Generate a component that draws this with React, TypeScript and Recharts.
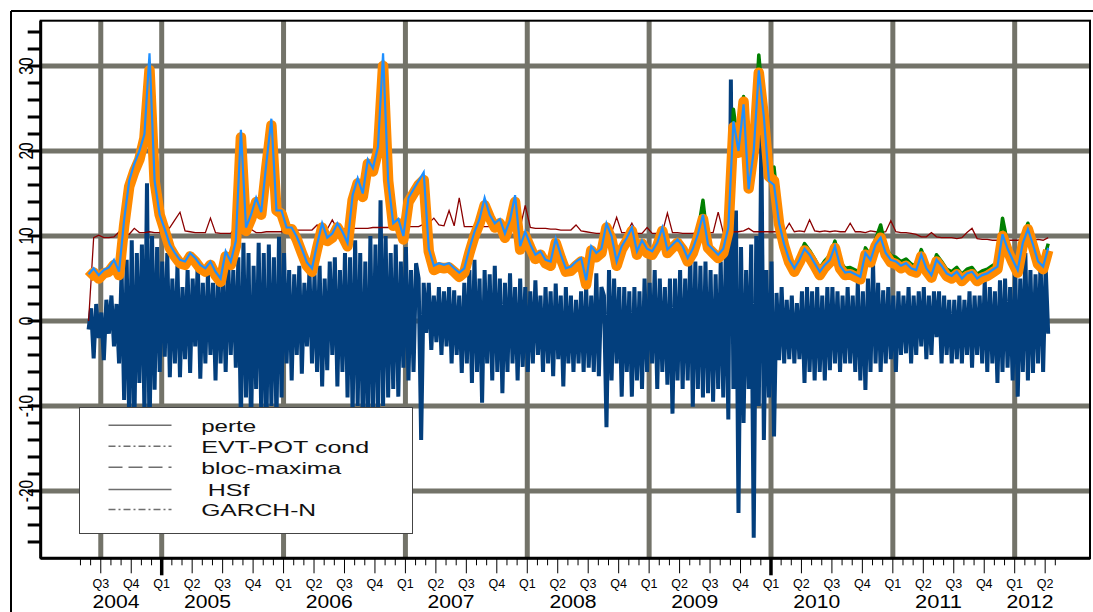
import { LineChart, Line, XAxis, YAxis, CartesianGrid, Legend } from 'recharts';

// daily loss series is sampled weekly-ish, the VaR series twice a month
const START = 2004.4;
const PERTE_STEP = 1 / 48;
const VAR_STEP = 1 / 24;

const perte = [
  -1, 1.5, -4.4, 2, -2, 1, -4.6, 2.5, -1.5, 3,
  -3, 2, -5, 6, -9.3, 7.2, -12, 9.5, -13, 8,
  -7.3, 9, -11, 16.2, -14, 10, -8.1, 8.7, -6, 7,
  -4.2, 8, -6.6, 5, -5, 6.5, -6.6, 4, -4.5, 6,
  -6.1, 5, -3, 7, -6.8, 4.5, -5, 5.5, -4, 4.5,
  -7, 6, -5, 5, -6, 7, -4, 6, -5.5, 7.5,
  -12, 9.2, -9, 8, -13, 6.5, -8, 9.2, -11, 8,
  -14, 9, -10, 7.5, -12, 9.9, -9, 8, -5, 6,
  -7, 5.5, -4, 6.5, -6.2, 4.5, -3, 6, -5, 5.5,
  -6, 6.5, -7.7, 5, -5.8, 7, -4, 7.5, -7.7, 6,
  -6, 8, -9, 7.5, -11, 9.5, -10, 8, -12, 7,
  -13, 10, -11, 9, -12, 14.2, -10, 10, -9, 8,
  -8, 9, -8.9, 7, -5.5, 8.7, -7, 6, -6, 6.8,
  5, -14, 4.5, -1.4, 4.5, -3.4, 3, -2.5, 4, -4,
  3.5, -3, 4, -5, 3.6, -4, 3, -6.1, 4.5, -5,
  6, -7.3, 7.2, -6, 5, -9.6, 6, -5, 5.5, -7,
  6.5, -6, 5, -8.5, 4.5, -6, 5.6, -5, 4, -7,
  5, -5.4, 4, -6, 3.5, -5, 4.8, -4, 3, -6,
  4, -5, 3.5, -6.5, 4.4, -4.5, 3, -7.7, 4, -5,
  3, -6, 2.5, -5, 3.5, -6, 4, -5.5, 3, -6,
  5.6, -6.5, 4, 3, -12.5, 6, -7, 5, -5, 4,
  -8.9, 4, -6, 3.5, -8.9, 4, -7, 3.5, -8, 5,
  -6, 4.5, -5, 6, -8, 5, -6, 4, -7.5, 5,
  -10.9, 5, -7, 6, -8, 5, -7, 8, -10.1, 7,
  -8, 6.5, -9, 7, -8.5, 6, -9.5, 5.5, -8, 7,
  -9, 8, -11.6, 28.4, -8, 13, -22.6, 8.7, -12, 6,
  -8, 9, -25.5, 10, -10, 22, -14, 6, -9, 7,
  -13.6, 3.3, -4.6, 4, -5, 2.5, -4.5, 3, -5, 2.1,
  -4.5, 3.5, -7.3, 4, -6, 3.5, -7, 4, -6, 3,
  -7, 4, -5.8, 4, -5, 3.5, -6, 3, -5, 4,
  -5, 3, -6, 4.5, -7, 3.5, -8.1, 5, -6, 6.8,
  -5, 4.5, -6, 3.6, -5, 4, -4.5, 3, -6, 3.5,
  -4, 3, -3.8, 4, -5, 3, -4, 3.5, -3, 4,
  -4.5, 3, -4, 3.5, -1.9, 3.5, -5, 3, -4, 2.5,
  -5, 2.5, -4.5, 3, -5, 2.5, -4, 3.5, -5.5, 3,
  -4, 3, -5, 4.8, -6, 4, -5, 3.5, -7.3, 4.8,
  -6, 5, -5.5, 4, -7, 6, -8.9, 5, -6, 8,
  -7, 6, -6.1, 5.5, -5, 7, -6, 6.4, -1.5,
];

const evtPotCond = [
  5.4, 6.0, 5.3, 5.9, 6.1, 6.9, 5.7, 12.0, 16.3, 18.0,
  19.4, 22.2, 30.0, 17.0, 12.8, 10.9, 8.9, 7.9, 7.1, 6.9,
  7.9, 7.3, 6.5, 6.1, 6.9, 5.7, 4.9, 7.9, 6.9, 9.1,
  22.0, 10.9, 12.3, 14.3, 12.8, 18.3, 23.3, 13.3, 12.9, 11.1,
  11.1, 9.9, 8.3, 6.8, 6.1, 8.8, 11.3, 9.7, 10.1, 11.3,
  10.3, 9.1, 14.5, 16.5, 14.9, 18.8, 17.9, 20.3, 30.5, 16.8,
  11.5, 11.8, 9.9, 14.3, 15.3, 16.3, 17.0, 8.5, 6.3, 6.6,
  6.5, 6.6, 6.1, 5.5, 6.0, 8.3, 10.3, 11.8, 13.9, 12.5,
  11.3, 11.8, 10.1, 11.7, 14.3, 8.7, 10.3, 8.9, 7.6, 8.1,
  7.1, 6.8, 9.5, 7.7, 6.1, 6.2, 6.8, 7.3, 4.6, 8.6,
  7.8, 8.3, 11.3, 9.9, 6.8, 8.7, 9.7, 10.9, 8.1, 9.4,
  8.3, 8.1, 9.1, 10.9, 8.3, 8.9, 9.5, 8.7, 7.3, 8.3,
  10.4, 14.2, 8.9, 8.3, 7.7, 8.3, 11.0, 24.9, 20.5, 26.4,
  16.0, 20.5, 31.3, 24.6, 17.6, 18.1, 12.0, 9.3, 7.4, 6.5,
  7.7, 9.1, 8.3, 7.3, 6.2, 7.1, 7.7, 9.4, 7.0, 6.2,
  6.3, 6.0, 5.7, 8.6, 7.7, 9.6, 11.3, 8.6, 7.7, 7.5,
  7.0, 7.3, 6.7, 6.5, 8.4, 6.7, 5.9, 7.8, 7.0, 6.1,
  5.8, 6.3, 5.5, 6.1, 6.3, 5.5, 5.9, 6.1, 6.5, 6.9,
  12.1, 9.1, 7.7, 6.5, 9.8, 11.5, 9.6, 7.5, 6.9, 9.1,
];

const blocMaxima = [
  0, 9.8, 10.1, 9.8, 9.8, 9.9, 10.5, 10.2, 10.2, 10.9,
  10.4, 10.4, 10.5, 10.4, 10.4, 10.4, 11.0, 11.9, 12.8, 10.6,
  10.5, 10.4, 10.4, 10.4, 12.1, 10.4, 10.3, 10.3, 10.3, 11.1,
  10.3, 10.4, 10.8, 10.4, 10.4, 10.5, 10.5, 10.5, 10.5, 10.6,
  10.7, 10.7, 10.7, 10.7, 10.7, 11.3, 10.7, 10.8, 11.9, 10.8,
  10.8, 10.9, 10.9, 10.9, 10.9, 10.9, 11.0, 11.0, 11.0, 11.0,
  11.1, 11.1, 11.1, 11.1, 11.1, 11.1, 11.4, 11.5, 12.1, 11.3,
  11.2, 13.0, 11.2, 14.5, 11.1, 11.1, 11.1, 11.1, 11.1, 11.1,
  11.1, 11.0, 11.0, 11.0, 11.0, 11.0, 13.6, 11.0, 10.9, 10.9,
  10.9, 10.8, 10.8, 10.7, 10.7, 10.7, 11.3, 10.6, 10.5, 10.4,
  10.3, 10.3, 10.3, 10.4, 12.2, 10.4, 10.4, 11.5, 10.3, 10.3,
  11.0, 10.3, 10.3, 10.4, 12.7, 10.4, 10.4, 10.3, 10.3, 10.3,
  10.4, 10.4, 10.4, 10.4, 12.8, 10.4, 10.4, 10.5, 10.5, 10.6,
  10.9, 10.5, 10.5, 10.5, 10.5, 10.5, 10.5, 10.5, 11.5, 10.5,
  10.6, 10.5, 11.9, 10.6, 10.5, 10.6, 10.5, 10.6, 10.5, 10.5,
  11.5, 10.5, 10.5, 10.4, 10.6, 10.5, 10.4, 10.5, 11.8, 10.5,
  10.4, 10.4, 10.3, 10.2, 9.9, 9.9, 10.4, 9.9, 9.8, 9.8,
  9.8, 9.7, 9.8, 10.4, 10.9, 9.7, 9.6, 9.6, 9.5, 9.5,
  9.5, 9.5, 9.5, 9.5, 9.6, 9.5, 9.5, 9.6, 9.5, 9.8,
];

const hsf = [
  5.5, 6.2, 5.4, 6.0, 6.3, 7.2, 5.8, 11.9, 16.5, 18.5,
  20.0, 22.0, 31.5, 16.5, 12.5, 10.8, 9.0, 8.0, 7.2, 7.0,
  8.0, 7.4, 6.6, 6.2, 7.0, 5.8, 5.0, 8.2, 7.0, 9.4,
  22.5, 11.0, 12.5, 14.5, 12.8, 18.5, 23.8, 13.0, 13.0, 11.0,
  11.0, 9.9, 8.5, 6.9, 6.2, 9.0, 11.5, 9.8, 10.3, 11.5,
  10.5, 9.2, 14.8, 16.8, 15.0, 19.0, 18.0, 20.5, 31.5, 16.5,
  11.5, 12.0, 10.0, 14.5, 15.5, 16.5, 17.5, 8.5, 6.5, 6.8,
  6.6, 6.8, 6.2, 5.7, 6.2, 8.5, 10.5, 12.0, 14.5, 12.5,
  11.5, 12.0, 10.3, 11.9, 14.8, 8.8, 10.5, 9.0, 7.8, 8.2,
  7.2, 7.0, 9.7, 7.8, 6.2, 6.4, 7.0, 7.4, 4.8, 8.8,
  8.0, 8.5, 11.5, 10.0, 7.0, 8.8, 9.8, 11.0, 8.2, 9.5,
  8.5, 8.2, 9.2, 11.0, 8.4, 9.0, 9.6, 8.8, 7.4, 8.5,
  10.2, 12.5, 9.0, 8.4, 7.8, 8.5, 11.0, 23.5, 20.0, 25.5,
  15.5, 20.0, 29.5, 24.0, 16.5, 16.0, 11.5, 9.0, 7.2, 6.2,
  7.2, 8.5, 7.8, 6.8, 5.8, 6.6, 7.2, 8.8, 6.5, 5.7,
  5.8, 5.5, 5.2, 8.0, 7.2, 9.0, 9.8, 8.0, 7.2, 7.0,
  6.5, 6.8, 6.2, 6.0, 7.8, 6.2, 5.4, 7.2, 6.5, 5.6,
  5.3, 5.8, 5.0, 5.6, 5.8, 5.0, 5.4, 5.6, 6.0, 6.4,
  10.2, 8.5, 7.2, 6.0, 9.2, 10.8, 9.0, 7.0, 6.4, 8.6,
];

const garchN = [
  5.1, 5.7, 5.0, 5.6, 5.8, 6.6, 5.4, 11.2, 15.8, 17.6,
  19.0, 21.5, 29.5, 16.5, 12.5, 10.6, 8.6, 7.6, 6.8, 6.6,
  7.6, 7.0, 6.2, 5.8, 6.6, 5.4, 4.6, 7.6, 6.6, 8.8,
  21.6, 10.6, 12.0, 14.0, 12.5, 18.0, 23.0, 13.0, 12.6, 10.8,
  10.8, 9.6, 8.0, 6.5, 5.8, 8.5, 11.0, 9.4, 9.8, 11.0,
  10.0, 8.8, 14.2, 16.2, 14.6, 18.5, 17.6, 20.0, 30.0, 16.5,
  11.2, 11.5, 9.6, 14.0, 15.0, 16.0, 16.6, 8.2, 6.0, 6.3,
  6.2, 6.3, 5.8, 5.2, 5.7, 8.0, 10.0, 11.5, 13.6, 12.2,
  11.0, 11.5, 9.8, 11.4, 14.0, 8.4, 10.0, 8.6, 7.3, 7.8,
  6.8, 6.5, 9.2, 7.4, 5.8, 5.9, 6.5, 7.0, 4.3, 8.3,
  7.5, 8.0, 11.0, 9.6, 6.5, 8.4, 9.4, 10.6, 7.8, 9.1,
  8.0, 7.8, 8.8, 10.6, 8.0, 8.6, 9.2, 8.4, 7.0, 8.0,
  9.8, 12.0, 8.6, 8.0, 7.4, 8.0, 10.5, 22.8, 19.8, 25.8,
  15.6, 20.0, 29.2, 24.0, 17.0, 16.5, 11.4, 8.8, 6.9, 5.8,
  6.9, 8.3, 7.5, 6.5, 5.4, 6.3, 6.9, 8.6, 6.2, 5.4,
  5.5, 5.2, 4.9, 7.8, 6.9, 8.8, 9.8, 7.8, 6.9, 6.7,
  6.2, 6.5, 5.9, 5.7, 7.6, 5.9, 5.1, 7.0, 6.2, 5.3,
  5.0, 5.5, 4.7, 5.3, 5.5, 4.7, 5.1, 5.3, 5.7, 6.1,
  10.0, 8.3, 6.9, 5.7, 9.0, 10.8, 8.8, 6.7, 6.1, 8.3,
];

const years = ['2004', '2005', '2006', '2007', '2008', '2009', '2010', '2011', '2012'];
const quarterNames = ['Q1', 'Q2', 'Q3', 'Q4'];
const legendNames = ['perte', 'EVT-POT cond', 'bloc-maxima', ' HSf', 'GARCH-N'];
const yTicks = [-26, -24, -22, -20, -18, -16, -14, -12, -10, -8, -6, -4, -2, 0, 2, 4, 6, 8, 10, 12, 14, 16, 18, 20, 22, 24, 26, 28, 30, 32, 34];
const yGridValues = [-20, -10, 0, 10, 20, 30];
const xGridValues = [2004.5, 2005, 2006, 2007, 2008, 2009, 2010, 2011, 2012];
const thickQ1Years = [2005, 2010];

// axis runs from May 2004 to May 2012, one tick per month
const FIRST_MONTH = 4;
const LAST_MONTH = 100;
const monthTicks: number[] = [];
for (let m = FIRST_MONTH; m <= LAST_MONTH; m++) monthTicks.push(2004 + m / 12);

// year label sits in the middle of that year's quarter labels
const yearTicks = years.map((y, k) => {
  const qs = [0, 3, 6, 9].map((q) => 12 * k + q).filter((m) => m >= FIRST_MONTH && m <= LAST_MONTH);
  return 2004 + qs.reduce((a, b) => a + b, 0) / qs.length / 12;
});

const toRows = (vals: number[], step: number) => vals.map((v, i) => ({ t: START + i * step, v }));
const perteData = toRows(perte, PERTE_STEP);
const evtData = toRows(evtPotCond, VAR_STEP);
const blocData = toRows(blocMaxima, VAR_STEP);
const hsfData = toRows(hsf, VAR_STEP);
const garchData = toRows(garchN, VAR_STEP);

const FONT = "'Liberation Sans', Arial, sans-serif";
const X_DOMAIN = [2004.007, 2012.618];
const Y_DOMAIN = [-27.92, 35.33];

function MonthTick(props: any) {
  const { x, y, payload } = props;
  const abs = Math.round((payload.value - 2004) * 12);
  const m = abs % 12;
  const yr = 2004 + Math.floor(abs / 12);
  const isQuarter = m % 3 === 0;
  const bold = m === 0 && thickQ1Years.includes(yr);
  return (
    <g>
      <line x1={x} x2={x} y1={y} y2={y + (bold ? 17 : isQuarter ? 15 : 7)} stroke="#000" strokeWidth={bold ? 3.5 : 1} />
      {isQuarter && (
        <text x={x} y={y + 29.5} textAnchor="middle" fontSize={12.5} fontFamily={FONT} fill="#000">
          {quarterNames[m / 3]}
        </text>
      )}
    </g>
  );
}

function YearTick(props: any) {
  const { x, payload, index } = props;
  return (
    <text x={x} y={607.5} textAnchor="middle" fontSize={17.5} fontFamily={FONT} fill="#000" textLength={47} lengthAdjust="spacingAndGlyphs">
      {years[index] ?? Math.floor(payload.value)}
    </text>
  );
}

function ValueTick(props: any) {
  const { x, y, payload } = props;
  const v = payload.value;
  return (
    <g>
      <line x1={x - 13} x2={x} y1={y} y2={y} stroke="#000" strokeWidth={3} />
      {v % 10 === 0 && (
        <text transform={`translate(${x - 7.7},${y}) scale(1.3,1) rotate(-90)`} textAnchor="middle" fontSize={15.5} fontFamily={FONT} fill="#000">
          {String(v)}
        </text>
      )}
    </g>
  );
}

function LegendBox() {
  const dashes = ['', '7 3 2 3', '14 6', '', '7 3 2 3'];
  const widths = [55, 168, 140, 41.7, 115];
  const rows = [17.2, 38.2, 59.2, 81.5, 101.5];
  return (
    <div style={{ width: 334, height: 127, background: '#fff', border: '1.5px solid #444', boxSizing: 'border-box' }}>
      <svg width={331} height={124} style={{ display: 'block' }}>
        {legendNames.map((name, i) => (
          <g key={name}>
            <line x1={28.5} x2={91.5} y1={rows[i]} y2={rows[i]} stroke="#6e6e6e" strokeWidth={1.6} strokeDasharray={dashes[i] || undefined} />
            <text
              x={name.startsWith(' ') ? 127.8 : 121.2}
              y={rows[i] + 6.4}
              fontSize={17}
              fontFamily={FONT}
              fill="#111"
              textLength={widths[i]}
              lengthAdjust="spacingAndGlyphs"
            >
              {name.trim()}
            </text>
          </g>
        ))}
      </svg>
    </div>
  );
}

export default function App() {
  return (
    <div style={{ position: 'absolute', left: 0, top: 0, width: 1093, height: 612, background: '#fff', overflow: 'hidden' }}>
      <LineChart width={1093} height={612} margin={{ top: 20.7, right: 3, bottom: 0, left: 0 }}>
        <CartesianGrid stroke="#737369" strokeWidth={5} horizontalValues={yGridValues} verticalValues={xGridValues} />
        <XAxis
          dataKey="t"
          type="number"
          domain={X_DOMAIN}
          allowDataOverflow
          ticks={monthTicks}
          interval={0}
          height={30}
          tickSize={0}
          tickMargin={0}
          tickLine={false}
          axisLine={false}
          tick={<MonthTick />}
        />
        <XAxis
          xAxisId="yr"
          dataKey="t"
          type="number"
          domain={X_DOMAIN}
          allowDataOverflow
          ticks={yearTicks}
          interval={0}
          height={23.7}
          tickSize={0}
          tickMargin={0}
          tickLine={false}
          axisLine={false}
          tick={<YearTick />}
        />
        <YAxis
          type="number"
          domain={Y_DOMAIN}
          allowDataOverflow
          ticks={yTicks}
          interval={0}
          width={40.7}
          tickSize={0}
          tickMargin={0}
          tickLine={false}
          axisLine={false}
          tick={<ValueTick />}
        />
        <Line data={perteData} dataKey="v" name="perte" stroke="#033f7d" strokeWidth={4} dot={false} activeDot={false} isAnimationActive={false} />
        <Line data={blocData} dataKey="v" name="bloc-maxima" stroke="#8b0000" strokeWidth={1.3} dot={false} activeDot={false} isAnimationActive={false} />
        <Line data={evtData} dataKey="v" name="EVT-POT cond" stroke="#008000" strokeWidth={3.5} strokeLinejoin="round" dot={false} activeDot={false} isAnimationActive={false} />
        <Line data={garchData} dataKey="v" name="GARCH-N" stroke="#ff8a00" strokeWidth={10.5} strokeLinejoin="round" dot={false} activeDot={false} isAnimationActive={false} />
        <Line data={hsfData} dataKey="v" name="HSf" stroke="#1e8fff" strokeWidth={2.2} dot={false} activeDot={false} isAnimationActive={false} />
        <Legend
          layout="vertical"
          align="center"
          verticalAlign="middle"
          content={() => <LegendBox />}
          wrapperStyle={{ left: 79, top: 407, width: 334, height: 127 }}
        />
      </LineChart>
      <svg width={1093} height={612} style={{ position: 'absolute', left: 0, top: 0, pointerEvents: 'none' }}>
        <line x1={11} x2={1093} y1={11} y2={11} stroke="#000" strokeWidth={2} />
        <line x1={11} x2={11} y1={11} y2={612} stroke="#000" strokeWidth={2} />
        <rect x={40.7} y={20.7} width={1049.3} height={537.6} fill="none" stroke="#000" strokeWidth={2} />
        <line x1={40.7} x2={40.7} y1={20.7} y2={558.3} stroke="#000" strokeWidth={3} />
        <line x1={40.7} x2={1090} y1={558.3} y2={558.3} stroke="#000" strokeWidth={3} />
      </svg>
    </div>
  );
}
